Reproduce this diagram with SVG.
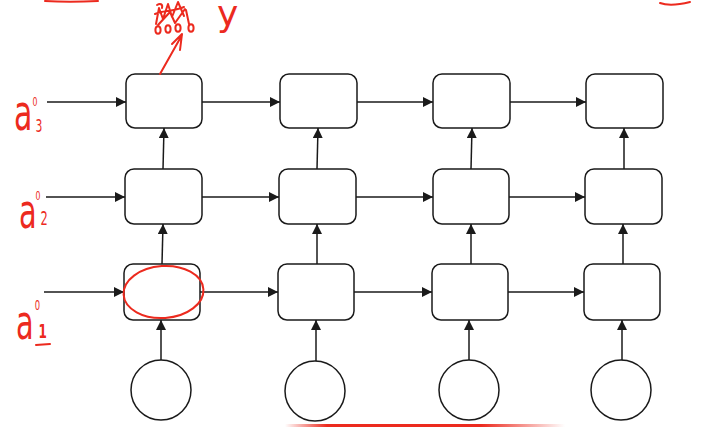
<svg xmlns="http://www.w3.org/2000/svg" width="704" height="427" viewBox="0 0 704 427">
<defs>
<style>
.box{fill:#fff;stroke:#1a1a1a;stroke-width:1.5}
.cir{fill:#fff;stroke:#1a1a1a;stroke-width:1.5}
.edge{fill:none;stroke:#1a1a1a;stroke-width:1.5;marker-end:url(#arr)}
.ink{fill:none;stroke:#ec2a1e;stroke-width:2;stroke-linecap:round;stroke-linejoin:round}
.hand{fill:#ec2a1e;font-family:"DejaVu Sans","Liberation Sans",sans-serif}
</style>
<marker id="arr" viewBox="0 0 10 10" refX="10" refY="5" markerWidth="10" markerHeight="10" markerUnits="userSpaceOnUse" orient="auto">
<path d="M0,0 L10,5 L0,10 z" fill="#1a1a1a"/>
</marker>
<linearGradient id="fade" x1="0" y1="0" x2="1" y2="0">
<stop offset="0" stop-color="#ec2a1e" stop-opacity="0"/>
<stop offset="0.15" stop-color="#ec2a1e" stop-opacity="1"/>
<stop offset="0.7" stop-color="#ec2a1e" stop-opacity="1"/>
<stop offset="1" stop-color="#ec2a1e" stop-opacity="0"/>
</linearGradient>
</defs>
<rect width="704" height="427" fill="#fff"/>

<g id="connectors">
<line class="edge" x1="47" y1="102" x2="126" y2="102"/>
<line class="edge" x1="46" y1="197" x2="125" y2="197"/>
<line class="edge" x1="44" y1="292" x2="124" y2="292"/>
<line class="edge" x1="202" y1="102" x2="280" y2="102"/>
<line class="edge" x1="357" y1="102" x2="433" y2="102"/>
<line class="edge" x1="510" y1="102" x2="586" y2="102"/>
<line class="edge" x1="202" y1="197" x2="279" y2="197"/>
<line class="edge" x1="356" y1="197" x2="433" y2="197"/>
<line class="edge" x1="509" y1="197" x2="585" y2="197"/>
<line class="edge" x1="200" y1="292" x2="278" y2="292"/>
<line class="edge" x1="354" y1="292" x2="432" y2="292"/>
<line class="edge" x1="508" y1="292" x2="584" y2="292"/>
<line class="edge" x1="163" y1="169" x2="164" y2="128"/>
<line class="edge" x1="162" y1="264" x2="163" y2="224"/>
<line class="edge" x1="161" y1="360" x2="161" y2="320"/>
<line class="edge" x1="317" y1="169" x2="318" y2="128"/>
<line class="edge" x1="317" y1="264" x2="317" y2="224"/>
<line class="edge" x1="316" y1="361" x2="316" y2="320"/>
<line class="edge" x1="471" y1="169" x2="472" y2="128"/>
<line class="edge" x1="471" y1="264" x2="471" y2="224"/>
<line class="edge" x1="469" y1="361" x2="469" y2="320"/>
<line class="edge" x1="624" y1="169" x2="624" y2="128"/>
<line class="edge" x1="623" y1="264" x2="623" y2="224"/>
<line class="edge" x1="622" y1="361" x2="622" y2="320"/>
</g>

<g id="h31"><rect class="box" x="126" y="74" width="76" height="54" rx="9"/></g>
<g id="h32"><rect class="box" x="280" y="74" width="77" height="54" rx="9"/></g>
<g id="h33"><rect class="box" x="433" y="74" width="77" height="54" rx="9"/></g>
<g id="h34"><rect class="box" x="586" y="74" width="77" height="54" rx="9"/></g>
<g id="h21"><rect class="box" x="125" y="169" width="77" height="55" rx="9"/></g>
<g id="h22"><rect class="box" x="279" y="169" width="77" height="55" rx="9"/></g>
<g id="h23"><rect class="box" x="433" y="169" width="76" height="55" rx="9"/></g>
<g id="h24"><rect class="box" x="585" y="169" width="77" height="55" rx="9"/></g>
<g id="h11"><rect class="box" x="124" y="264" width="76" height="56" rx="9"/></g>
<g id="h12"><rect class="box" x="278" y="264" width="76" height="56" rx="9"/></g>
<g id="h13"><rect class="box" x="432" y="264" width="76" height="56" rx="9"/></g>
<g id="h14"><rect class="box" x="584" y="264" width="76" height="56" rx="9"/></g>
<g id="x1"><circle class="cir" cx="161" cy="390" r="30"/></g>
<g id="x2"><circle class="cir" cx="315" cy="391" r="30"/></g>
<g id="x3"><circle class="cir" cx="469" cy="390" r="30"/></g>
<g id="x4"><circle class="cir" cx="621" cy="390" r="30"/></g>

<g id="annotations">
<ellipse class="ink" cx="163.5" cy="292" rx="40" ry="26" stroke-width="2.2" transform="rotate(-4 163.5 292)"/>
<path class="ink" d="M160,74 L182,35 M172,44 L182,34 L180,50"/>
<g class="ink" stroke-width="1.8">
<ellipse cx="158" cy="30" rx="2.6" ry="3.8"/>
<ellipse cx="168" cy="29" rx="2.6" ry="3.8"/>
<ellipse cx="178" cy="28" rx="2.6" ry="3.8"/>
<ellipse cx="191" cy="28" rx="2.6" ry="3.8"/>
<path d="M156,24 L159,8 L163,19 L168,4 L172,17 L178,2 L184,16 M155,14 C163,10 172,12 184,7 M158,25 L170,12 L175,23 L185,9 M186,10 L189,24 M157,5 C160,3 163,4 162,8"/>
</g>
<text class="hand" x="217" y="26" font-size="36">y</text>
<path class="ink" d="M45,1 C60,2 80,2 98,1"/>
<path class="ink" d="M660,3 C668,6 678,5 690,2"/>
<rect x="285" y="424" width="280" height="3" fill="url(#fade)"/>
<text class="hand" transform="translate(14 130) scale(0.6 1)"><tspan font-size="50">a</tspan><tspan font-size="13" dy="-24">0</tspan><tspan font-size="18" dx="-3" dy="26">3</tspan></text>
<text class="hand" transform="translate(19 228) scale(0.6 1)"><tspan font-size="48">a</tspan><tspan font-size="13" dx="-2" dy="-28">0</tspan><tspan font-size="19" dy="25">2</tspan></text>
<text class="hand" transform="translate(16 339) scale(0.6 1)"><tspan font-size="48">a</tspan><tspan font-size="14" dx="2" dy="-29">0</tspan><tspan font-size="20" font-weight="bold" dx="-3" dy="28">1</tspan></text>
<path class="ink" d="M36,345 L50,344"/>
</g>
</svg>
